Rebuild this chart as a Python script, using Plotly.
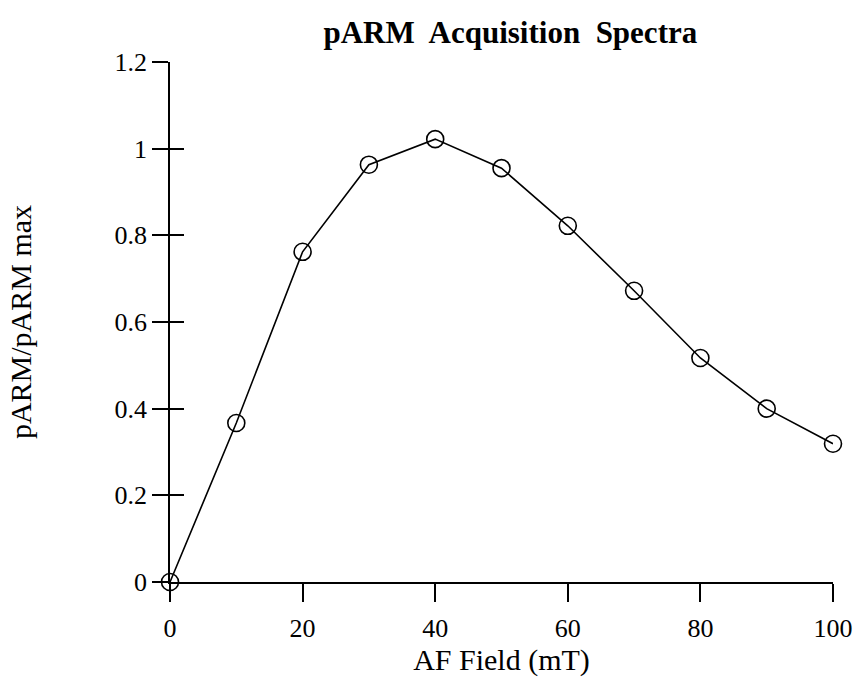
import plotly.graph_objects as go

af_field = [0, 10, 20, 30, 40, 50, 60, 70, 80, 90, 100]
parm_norm = [0.0, 0.367, 0.762, 0.963, 1.022, 0.955, 0.822, 0.672, 0.517, 0.40, 0.319]
x_ticks = [0, 20, 40, 60, 80, 100]
y_ticks = [0, 0.2, 0.4, 0.6, 0.8, 1.0, 1.2]
y_ticklabels = ["0", "0.2", "0.4", "0.6", "0.8", "1", "1.2"]

FONT = "Liberation Serif"

fig = go.Figure()
fig.add_trace(go.Scatter(
    x=af_field, y=parm_norm, mode="lines+markers",
    line=dict(color="black", width=1.6),
    marker=dict(symbol="circle-open", size=17, color="black", line=dict(width=1.6)),
    cliponaxis=False, showlegend=False,
))
# invisible trace on overlay axis for inward tick marks
fig.add_trace(go.Scatter(x=[0], y=[0], yaxis="y2", mode="markers",
                         marker=dict(opacity=0), showlegend=False, hoverinfo="skip"))

fig.update_layout(
    width=865, height=691,
    margin=dict(l=170, r=30, t=62, b=109),
    paper_bgcolor="white", plot_bgcolor="white",
    font=dict(family=FONT, color="black", size=25),
    title=dict(text="<b>pARM  Acquisition  Spectra</b>", x=0.59, xanchor="center",
               y=0.953, yanchor="middle", font=dict(family=FONT, size=31, color="black")),
    xaxis=dict(range=[0, 100], tickvals=x_ticks, ticks="outside", ticklen=18,
               tickwidth=1.6, tickcolor="black", showline=True, linecolor="black",
               linewidth=1.6, showgrid=False, zeroline=False,
               tickfont=dict(size=26), ticklabelstandoff=4,
               title=dict(text="AF Field (mT)", standoff=6, font=dict(size=30))),
    yaxis=dict(range=[0, 1.2], tickvals=y_ticks, ticktext=y_ticklabels,
               ticks="outside", ticklen=16, tickwidth=1.6, tickcolor="black",
               showline=True, linecolor="black", linewidth=1.6, showgrid=False,
               zeroline=False, tickfont=dict(size=26),
               title=dict(text="pARM/pARM max", standoff=74, font=dict(size=30))),
    yaxis2=dict(range=[0, 1.2], tickvals=y_ticks, overlaying="y", side="left",
                ticks="inside", ticklen=14, tickwidth=1.6, tickcolor="black",
                showticklabels=False, showline=False, showgrid=False, zeroline=False),
)

fig.write_html("out.html")
